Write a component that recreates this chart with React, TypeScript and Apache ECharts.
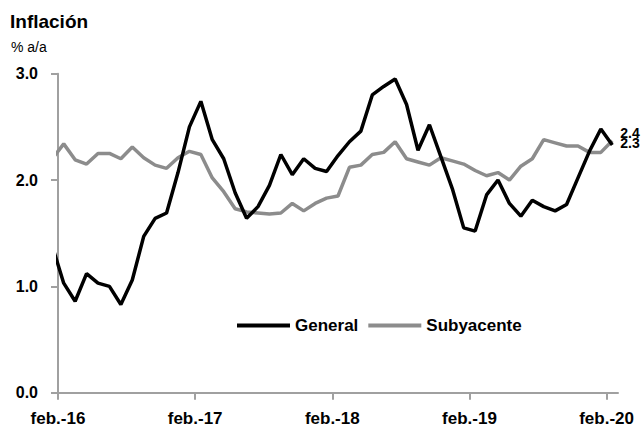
import React, { useEffect, useRef } from "react";
import * as echarts from "echarts";

const months: string[] = [
  "ene.-16", "feb.-16", "mar.-16", "abr.-16", "may.-16", "jun.-16", "jul.-16", "ago.-16", "sep.-16", "oct.-16", "nov.-16", "dic.-16",
  "ene.-17", "feb.-17", "mar.-17", "abr.-17", "may.-17", "jun.-17", "jul.-17", "ago.-17", "sep.-17", "oct.-17", "nov.-17", "dic.-17",
  "ene.-18", "feb.-18", "mar.-18", "abr.-18", "may.-18", "jun.-18", "jul.-18", "ago.-18", "sep.-18", "oct.-18", "nov.-18", "dic.-18",
  "ene.-19", "feb.-19", "mar.-19", "abr.-19", "may.-19", "jun.-19", "jul.-19", "ago.-19", "sep.-19", "oct.-19", "nov.-19", "dic.-19",
  "ene.-20", "feb.-20",
];

const general: number[] = [
  1.38, 1.03, 0.86, 1.12, 1.03, 1.0, 0.83, 1.06, 1.47, 1.64, 1.69, 2.07,
  2.5, 2.74, 2.38, 2.2, 1.88, 1.64, 1.75, 1.95, 2.24, 2.05, 2.2, 2.11,
  2.08, 2.23, 2.36, 2.46, 2.8, 2.88, 2.95, 2.71, 2.28, 2.52, 2.22, 1.92,
  1.55, 1.52, 1.86, 2.0, 1.78, 1.66, 1.81, 1.75, 1.71, 1.77, 2.02, 2.27,
  2.48, 2.33,
];

const subyacente: number[] = [
  2.2, 2.34, 2.19, 2.15, 2.25, 2.25, 2.2, 2.31, 2.21, 2.14, 2.11, 2.21,
  2.27, 2.24, 2.02, 1.89, 1.73, 1.7, 1.69, 1.68, 1.69, 1.78, 1.71, 1.78,
  1.83, 1.85, 2.12, 2.14, 2.24, 2.26, 2.36, 2.2, 2.17, 2.14, 2.21, 2.18,
  2.15, 2.09, 2.04, 2.07, 2.0, 2.13, 2.2, 2.38, 2.35, 2.32, 2.32, 2.26,
  2.26, 2.37,
];

const seriesNames = ["General", "Subyacente"];
const yTicks: number[] = [0, 1, 2, 3];
const xTickMonths: string[] = ["feb.-16", "feb.-17", "feb.-18", "feb.-19", "feb.-20"];

const FONT = "'Liberation Sans', Arial, Helvetica, sans-serif";

// tick "feb.-16" marks the start of February 2016; each monthly value sits mid-month.
const firstTickIndex = months.indexOf(xTickMonths[0]);
const toPoints = (vals: number[]) =>
  vals.map((v, i) => [i - firstTickIndex + 0.5, v]);
const xTickValues = xTickMonths.map((m) => months.indexOf(m) - firstTickIndex);

export default function App() {
  const ref = useRef<HTMLDivElement>(null);

  useEffect(() => {
    if (!ref.current) return;
    const chart = echarts.init(ref.current, null, { renderer: "svg" });
    const axisColor = "#a0a0a0";
    chart.setOption({
      animation: false,
      backgroundColor: "#ffffff",
      textStyle: { fontFamily: FONT },
      title: [
        {
          text: "Inflación",
          left: 10,
          top: 12,
          padding: 0,
          textStyle: { fontFamily: FONT, fontSize: 19, fontWeight: "bold", color: "#000" },
        },
        {
          text: "% a/a",
          left: 11,
          top: 40,
          padding: 0,
          textStyle: { fontFamily: FONT, fontSize: 14, fontWeight: "normal", color: "#000" },
        },
      ],
      legend: {
        data: seriesNames,
        left: 232,
        top: 312,
        icon: "rect",
        itemWidth: 53,
        itemHeight: 4,
        itemGap: 10,
        textStyle: { fontFamily: FONT, fontSize: 17, fontWeight: "bold", color: "#000" },
      },
      grid: { left: 58, right: 24, top: 73.7, bottom: 35.3, containLabel: false },
      xAxis: {
        type: "value",
        min: 0,
        max: xTickValues[xTickValues.length - 1] + 1,
        splitLine: { show: false },
        axisLine: { show: true, lineStyle: { color: axisColor, width: 2 } },
        axisTick: {
          show: true,
          length: 7,
          customValues: xTickValues,
          lineStyle: { color: axisColor, width: 2 },
        },
        axisLabel: {
          customValues: xTickValues,
          margin: 17,
          fontFamily: FONT,
          fontSize: 17,
          fontWeight: "bold",
          color: "#000",
          formatter: (v: number) => months[Math.round(v) + firstTickIndex] ?? "",
        },
      },
      yAxis: {
        type: "value",
        min: yTicks[0],
        max: yTicks[yTicks.length - 1],
        interval: 1,
        splitLine: { show: false },
        axisLine: { show: true, lineStyle: { color: axisColor, width: 2 } },
        axisTick: { show: true, length: 7, lineStyle: { color: axisColor, width: 2 } },
        axisLabel: {
          margin: 20,
          fontFamily: FONT,
          fontSize: 16,
          fontWeight: "bold",
          color: "#000",
          formatter: (v: number) => v.toFixed(1),
        },
      },
      series: [
        {
          name: seriesNames[0],
          type: "line",
          data: toPoints(general),
          symbol: "none",
          showSymbol: false,
          clip: true,
          z: 3,
          lineStyle: { color: "#000000", width: 3.5 },
          itemStyle: { color: "#000000" },
          endLabel: {
            show: true,
            distance: 8,
            offset: [0, -2],
            fontFamily: FONT,
            fontSize: 14,
            fontWeight: "bold",
            color: "#000",
            formatter: (p: any) => Number(p.value[1]).toFixed(1),
          },
        },
        {
          name: seriesNames[1],
          type: "line",
          data: toPoints(subyacente),
          symbol: "none",
          showSymbol: false,
          clip: true,
          z: 2,
          lineStyle: { color: "#8c8c8c", width: 3.5 },
          itemStyle: { color: "#8c8c8c" },
          endLabel: {
            show: true,
            distance: 8,
            offset: [0, -8],
            fontFamily: FONT,
            fontSize: 14,
            fontWeight: "bold",
            color: "#000",
            formatter: (p: any) => Number(p.value[1]).toFixed(1),
          },
        },
      ],
    });
    return () => chart.dispose();
  }, []);

  return (
    <div
      ref={ref}
      style={{ position: "fixed", left: 0, top: 0, width: 642, height: 428, background: "#fff" }}
    />
  );
}
